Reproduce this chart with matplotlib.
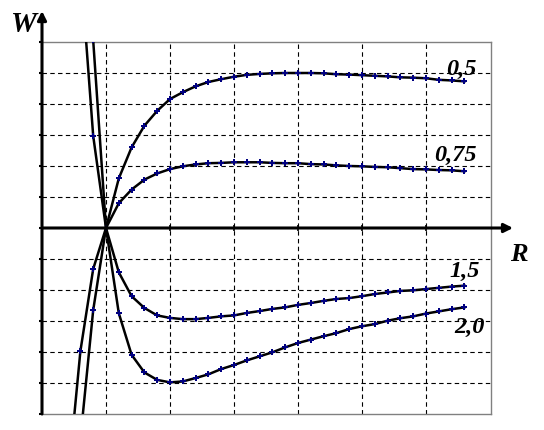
import numpy as np
import matplotlib
matplotlib.use("Agg")
import matplotlib.pyplot as plt

# ---- data ----
R_left = [0.4, 0.6, 0.8]
R_right = [1.0, 1.2, 1.4, 1.6, 1.8, 2.0, 2.2, 2.4, 2.6, 2.8, 3.0, 3.2, 3.4, 3.6,
           3.8, 4.0, 4.2, 4.4, 4.6, 4.8, 5.0, 5.2, 5.4, 5.6, 5.8, 6.0, 6.2, 6.4, 6.6]

w05_left = [np.nan, -6.8, -2.65]
w05 = [0.0, 1.60, 2.60, 3.30, 3.78, 4.16, 4.38, 4.57, 4.71, 4.80, 4.88, 4.94, 4.97, 4.99,
       5.00, 5.00, 5.00, 4.99, 4.96, 4.95, 4.93, 4.91, 4.89, 4.86, 4.85, 4.83, 4.78, 4.76, 4.73]

w075_left = [-8.3, -3.97, -1.32]
w075 = [0.0, 0.80, 1.24, 1.56, 1.76, 1.90, 1.99, 2.05, 2.09, 2.10, 2.12, 2.12, 2.12, 2.10,
        2.09, 2.09, 2.06, 2.05, 2.02, 2.00, 1.99, 1.97, 1.96, 1.93, 1.90, 1.89, 1.87, 1.86, 1.83]

w15_left = [np.nan, 8.5, 2.97]
w15 = [0.0, -1.43, -2.20, -2.58, -2.82, -2.90, -2.94, -2.94, -2.90, -2.85, -2.82, -2.74, -2.68, -2.61,
       -2.56, -2.48, -2.42, -2.35, -2.29, -2.26, -2.20, -2.13, -2.08, -2.03, -2.01, -1.97, -1.93, -1.89, -1.86]

w20_left = [np.nan, 14.0, 6.05]
w20 = [0.0, -2.75, -4.09, -4.66, -4.90, -4.98, -4.95, -4.84, -4.72, -4.55, -4.42, -4.27, -4.14, -4.01,
       -3.85, -3.71, -3.60, -3.49, -3.39, -3.26, -3.17, -3.10, -2.99, -2.91, -2.85, -2.76, -2.69, -2.62, -2.56]

curve_labels = ["0,5", "0,75", "1,5", "2,0"]
grid_x = [1, 2, 3, 4, 5, 6]
grid_y = [-5, -4, -3, -2, -1, 1, 2, 3, 4, 5]
y_ticks = [-6, -5, -4, -3, -2, -1, 0, 1, 2, 3, 4, 5, 6]

# ---- figure ----
W_PX, H_PX = 544, 431
fig = plt.figure(figsize=(W_PX / 100, H_PX / 100), dpi=100)
ax = fig.add_axes([42 / W_PX, 16 / H_PX, 449 / W_PX, 372 / H_PX])
ax.set_xlim(0, 449 / 64)
ax.set_ylim(-6, 6)

for s in ["top", "right", "bottom"]:
    ax.spines[s].set_color("#808080")
    ax.spines[s].set_linewidth(1.0)
ax.spines["left"].set_visible(False)

ax.set_xticks([])
ax.set_yticks(y_ticks)
ax.tick_params(axis="y", length=2.5, width=1.5, direction="out", labelleft=False, color="black")

for gx in grid_x:
    ax.axvline(gx, color="black", lw=0.8, ls=(0, (4, 3)), zorder=1)
for gy in grid_y:
    ax.axhline(gy, color="black", lw=0.8, ls=(0, (4, 3)), zorder=1)

mcol = "#000080"
for wl, wr in [(w05_left, w05), (w075_left, w075), (w15_left, w15), (w20_left, w20)]:
    R = list(R_left) + list(R_right)
    W = list(wl) + list(wr)
    ax.plot(R, W, color="black", lw=1.8, marker="P", ms=5, mfc=mcol, mec=mcol, mew=0,
            zorder=4)

# x-axis ticks
ax.plot(grid_x, [0] * len(grid_x), ls="none", marker="|", ms=5, mew=1.2, color="black", zorder=5)

# axes arrows
ax.annotate("", xy=(7.36, 0), xytext=(0, 0), xycoords="data",
            arrowprops=dict(arrowstyle="-|>", color="black", lw=2.2, mutation_scale=13,
                            shrinkA=0, shrinkB=0), annotation_clip=False, zorder=6)
ax.annotate("", xy=(0, 7.0), xytext=(0, -6), xycoords="data",
            arrowprops=dict(arrowstyle="-|>", color="black", lw=2.2, mutation_scale=13,
                            shrinkA=0, shrinkB=0), annotation_clip=False, zorder=6)

font = dict(family="Liberation Serif", weight="bold", style="italic", color="black")

def ftext(x, y, s, size):
    fig.text(x / W_PX, 1 - y / H_PX, s, ha="left", va="baseline", fontsize=size, **font)

ftext(11, 32, "W", 21)
ftext(510, 261, "R", 19)
label_pos = [(446, 74.5), (434, 161), (449, 276.5), (454, 333)]
for (lx, ly), lab in zip(label_pos, curve_labels):
    ftext(lx, ly, lab, 17.5)

fig.savefig("out.png", dpi=100)
